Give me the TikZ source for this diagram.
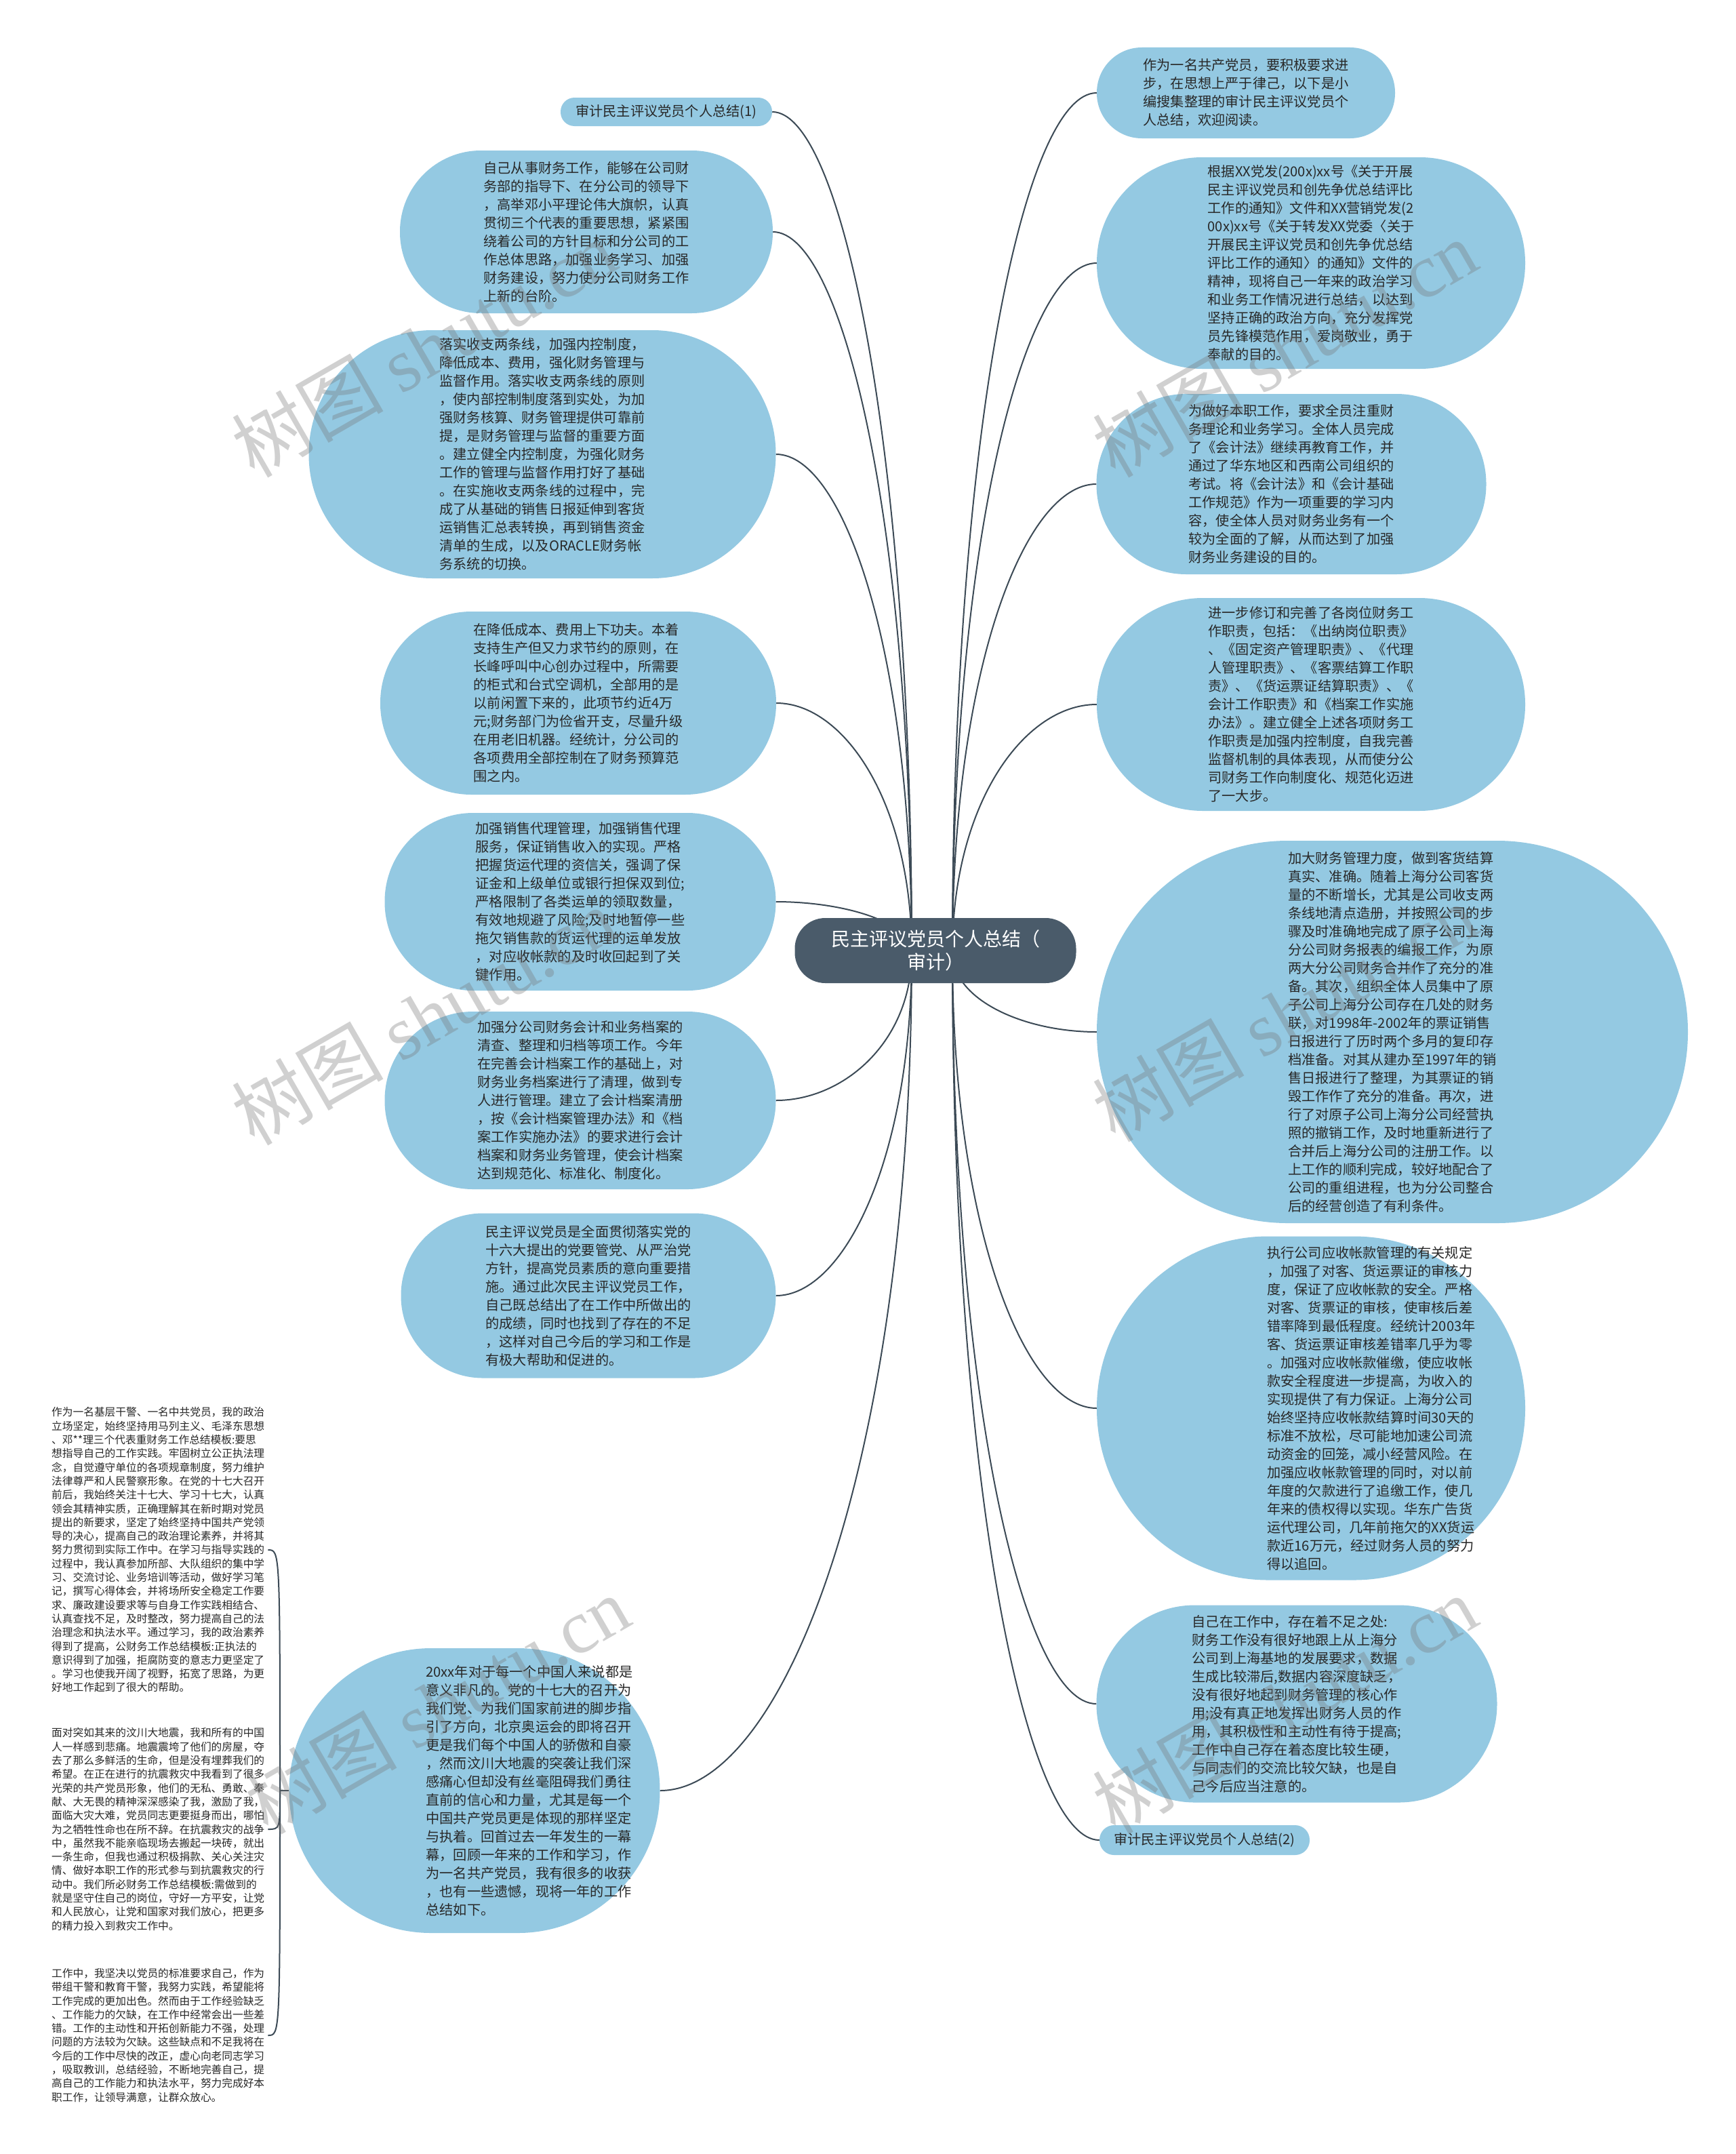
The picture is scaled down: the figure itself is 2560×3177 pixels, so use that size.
\documentclass[tikz,border=0pt]{standalone}
\usepackage{fontspec}
\setmainfont{Noto Sans CJK SC}
\newfontfamily\wmlatin{Liberation Serif}
\usetikzlibrary{calc}
\definecolor{bubblue}{RGB}{148,201,226}
\definecolor{rootfill}{RGB}{74,91,106}
\definecolor{linec}{RGB}{60,74,86}
\definecolor{txt}{RGB}{40,40,40}
\pgfdeclarelayer{edgelayer}
\pgfdeclarelayer{wmlayer}
\pgfsetlayers{edgelayer,main,wmlayer}
\tikzset{
  bub/.style={fill=bubblue, text=txt, align=left, inner sep=0pt,
    font=\fontsize{20.2}{27}\selectfont},
  bubtext/.style={text=txt, align=left, inner sep=0pt,
    font=\fontsize{20.2}{27}\selectfont},
  para/.style={text=txt, align=left, inner sep=5pt, anchor=west,
    font=\fontsize{15.7}{20.3}\selectfont},
  rootnode/.style={fill=rootfill, text=white, align=center, inner sep=0pt,
    rounded corners=45pt, minimum width=415pt, minimum height=96pt,
    font=\fontsize{28}{34}\selectfont},
  conn/.style={draw=linec, line width=2pt},
  wm/.style={text=black!55, opacity=0.33, anchor=south west, rotate=30,
    inner sep=0pt, font=\fontsize{112}{120}\selectfont}
}
\begin{document}
\begin{tikzpicture}[x=1pt,y=-1pt]
\useasboundingbox (0,0) rectangle (2560,3177);

% ---------- root ----------
\node[rootnode] (root) at (1380,1402) {民主评议党员个人总结（\\审计）};
\coordinate (rootL) at (1345,1405);
\coordinate (rootR) at (1405,1405);

% ---------- left side ----------
\node[bub, minimum width=312pt, minimum height=42pt, rounded corners=20.5pt] (L0) at (983,165)
 {审计民主评议党员个人总结(1)};

\node[bub, minimum width=550pt, minimum height=240pt, rounded corners=119.5pt] (L1) at (865,342)
 {自己从事财务工作，能够在公司财\\
务部的指导下、在分公司的领导下\\
，高举邓小平理论伟大旗帜，认真\\
贯彻三个代表的重要思想，紧紧围\\
绕着公司的方针目标和分公司的工\\
作总体思路，加强业务学习、加强\\
财务建设，努力使分公司财务工作\\
上新的台阶。};

\node[bub, minimum width=689pt, minimum height=366pt, rounded corners=182.5pt] (L2) at (800,670)
 {落实收支两条线，加强内控制度，\\
降低成本、费用，强化财务管理与\\
监督作用。落实收支两条线的原则\\
，使内部控制制度落到实处，为加\\
强财务核算、财务管理提供可靠前\\
提，是财务管理与监督的重要方面\\
。建立健全内控制度，为强化财务\\
工作的管理与监督作用打好了基础\\
。在实施收支两条线的过程中，完\\
成了从基础的销售日报延伸到客货\\
运销售汇总表转换，再到销售资金\\
清单的生成，以及ORACLE财务帐\\
务系统的切换。};

\node[bub, minimum width=584pt, minimum height=270pt, rounded corners=134.5pt] (L3) at (853,1037)
 {在降低成本、费用上下功夫。本着\\
支持生产但又力求节约的原则，在\\
长峰呼叫中心创办过程中，所需要\\
的柜式和台式空调机，全部用的是\\
以前闲置下来的，此项节约近4万\\
元;财务部门为俭省开支，尽量升级\\
在用老旧机器。经统计，分公司的\\
各项费用全部控制在了财务预算范\\
围之内。};

\node[bub, minimum width=577pt, minimum height=262pt, rounded corners=130.5pt] (L4) at (856,1330)
 {加强销售代理管理，加强销售代理\\
服务，保证销售收入的实现。严格\\
把握货运代理的资信关，强调了保\\
证金和上级单位或银行担保双到位;\\
严格限制了各类运单的领取数量，\\
有效地规避了风险;及时地暂停一些\\
拖欠销售款的货运代理的运单发放\\
，对应收帐款的及时收回起到了关\\
键作用。};

\node[bub, minimum width=577pt, minimum height=262pt, rounded corners=130.5pt] (L5) at (856,1623)
 {加强分公司财务会计和业务档案的\\
清查、整理和归档等项工作。今年\\
在完善会计档案工作的基础上，对\\
财务业务档案进行了清理，做到专\\
人进行管理。建立了会计档案清册\\
，按《会计档案管理办法》和《档\\
案工作实施办法》的要求进行会计\\
档案和财务业务管理，使会计档案\\
达到规范化、标准化、制度化。};

\node[bub, minimum width=553pt, minimum height=243pt, rounded corners=121pt] (L6) at (868,1911)
 {民主评议党员是全面贯彻落实党的\\
十六大提出的党要管党、从严治党\\
方针，提高党员素质的意向重要措\\
施。通过此次民主评议党员工作，\\
自己既总结出了在工作中所做出的\\
的成绩，同时也找到了存在的不足\\
，这样对自己今后的学习和工作是\\
有极大帮助和促进的。};

\node[bub, minimum width=547pt, minimum height=420pt, rounded corners=209.5pt] (LB) at (700,2641) {};
\node[bubtext] (LBt) at (781,2641)
 {20xx年对于每一个中国人来说都是\\
意义非凡的。党的十七大的召开为\\
我们党、为我们国家前进的脚步指\\
引了方向，北京奥运会的即将召开\\
更是我们每个中国人的骄傲和自豪\\
，然而汶川大地震的突袭让我们深\\
感痛心但却没有丝毫阻碍我们勇往\\
直前的信心和力量，尤其是每一个\\
中国共产党员更是体现的那样坚定\\
与执着。回首过去一年发生的一幕\\
幕，回顾一年来的工作和学习，作\\
为一名共产党员，我有很多的收获\\
，也有一些遗憾，现将一年的工作\\
总结如下。};

% ---------- far-left paragraphs ----------
\node[para] (P1) at (71,2286)
 {作为一名基层干警、一名中共党员，我的政治\\
立场坚定，始终坚持用马列主义、毛泽东思想\\
、邓**理三个代表重财务工作总结模板:要思\\
想指导自己的工作实践。牢固树立公正执法理\\
念，自觉遵守单位的各项规章制度，努力维护\\
法律尊严和人民警察形象。在党的十七大召开\\
前后，我始终关注十七大、学习十七大，认真\\
领会其精神实质，正确理解其在新时期对党员\\
提出的新要求，坚定了始终坚持中国共产党领\\
导的决心，提高自己的政治理论素养，并将其\\
努力贯彻到实际工作中。在学习与指导实践的\\
过程中，我认真参加所部、大队组织的集中学\\
习、交流讨论、业务培训等活动，做好学习笔\\
记，撰写心得体会，并将场所安全稳定工作要\\
求、廉政建设要求等与自身工作实践相结合、\\
认真查找不足，及时整改，努力提高自己的法\\
治理念和执法水平。通过学习，我的政治素养\\
得到了提高，公财务工作总结模板:正执法的\\
意识得到了加强，拒腐防变的意志力更坚定了\\
。学习也使我开阔了视野，拓宽了思路，为更\\
好地工作起到了很大的帮助。};

\node[para] (P2) at (71,2698)
 {面对突如其来的汶川大地震，我和所有的中国\\
人一样感到悲痛。地震震垮了他们的房屋，夺\\
去了那么多鲜活的生命，但是没有埋葬我们的\\
希望。在正在进行的抗震救灾中我看到了很多\\
光荣的共产党员形象，他们的无私、勇敢、奉\\
献、大无畏的精神深深感染了我，激励了我，\\
面临大灾大难，党员同志更要挺身而出，哪怕\\
为之牺牲性命也在所不辞。在抗震救灾的战争\\
中，虽然我不能亲临现场去搬起一块砖，就出\\
一条生命，但我也通过积极捐款、关心关注灾\\
情、做好本职工作的形式参与到抗震救灾的行\\
动中。我们所必财务工作总结模板:需做到的\\
就是坚守住自己的岗位，守好一方平安，让党\\
和人民放心，让党和国家对我们放心，把更多\\
的精力投入到救灾工作中。};

\node[para] (P3) at (71,3002)
 {工作中，我坚决以党员的标准要求自己，作为\\
带组干警和教育干警，我努力实践，希望能将\\
工作完成的更加出色。然而由于工作经验缺乏\\
、工作能力的欠缺，在工作中经常会出一些差\\
错。工作的主动性和开拓创新能力不强，处理\\
问题的方法较为欠缺。这些缺点和不足我将在\\
今后的工作中尽快的改正，虚心向老同志学习\\
，吸取教训，总结经验，不断地完善自己，提\\
高自己的工作能力和执法水平，努力完成好本\\
职工作，让领导满意，让群众放心。};

\coordinate (jn) at (413,2641);

% ---------- right side ----------
\node[bub, minimum width=440pt, minimum height=134pt, rounded corners=66.5pt] (R1) at (1838,137)
 {作为一名共产党员，要积极要求进\\
步，在思想上严于律己，以下是小\\
编搜集整理的审计民主评议党员个\\
人总结，欢迎阅读。};

\node[bub, minimum width=632pt, minimum height=312pt, rounded corners=155.5pt] (R2) at (1934,388)
 {根据XX党发(200x)xx号《关于开展\\
民主评议党员和创先争优总结评比\\
工作的通知》文件和XX营销党发(2\\
00x)xx号《关于转发XX党委〈关于\\
开展民主评议党员和创先争优总结\\
评比工作的通知〉的通知》文件的\\
精神，现将自己一年来的政治学习\\
和业务工作情况进行总结，以达到\\
坚持正确的政治方向，充分发挥党\\
员先锋模范作用，爱岗敬业，勇于\\
奉献的目的。};

\node[bub, minimum width=575pt, minimum height=266pt, rounded corners=132.5pt] (R3) at (1905,714)
 {为做好本职工作，要求全员注重财\\
务理论和业务学习。全体人员完成\\
了《会计法》继续再教育工作，并\\
通过了华东地区和西南公司组织的\\
考试。将《会计法》和《会计基础\\
工作规范》作为一项重要的学习内\\
容，使全体人员对财务业务有一个\\
较为全面的了解，从而达到了加强\\
财务业务建设的目的。};

\node[bub, minimum width=632pt, minimum height=314pt, rounded corners=156.5pt] (R4) at (1934,1039)
 {进一步修订和完善了各岗位财务工\\
作职责，包括：《出纳岗位职责》\\
、《固定资产管理职责》、《代理\\
人管理职责》、《客票结算工作职\\
责》、《货运票证结算职责》、《\\
会计工作职责》和《档案工作实施\\
办法》。建立健全上述各项财务工\\
作职责是加强内控制度，自我完善\\
监督机制的具体表现，从而使分公\\
司财务工作向制度化、规范化迈进\\
了一大步。};

\node[bub, minimum width=872pt, minimum height=564pt, rounded corners=281.5pt] (R5) at (2054,1522)
 {加大财务管理力度，做到客货结算\\
真实、准确。随着上海分公司客货\\
量的不断增长，尤其是公司收支两\\
条线地清点造册，并按照公司的步\\
骤及时准确地完成了原子公司上海\\
分公司财务报表的编报工作，为原\\
两大分公司财务合并作了充分的准\\
备。其次，组织全体人员集中了原\\
子公司上海分公司存在几处的财务\\
联，对1998年-2002年的票证销售\\
日报进行了历时两个多月的复印存\\
档准备。对其从建办至1997年的销\\
售日报进行了整理，为其票证的销\\
毁工作作了充分的准备。再次，进\\
行了对原子公司上海分公司经营执\\
照的撤销工作，及时地重新进行了\\
合并后上海分公司的注册工作。以\\
上工作的顺利完成，较好地配合了\\
公司的重组进程，也为分公司整合\\
后的经营创造了有利条件。};

\node[bub, minimum width=632pt, minimum height=507pt, rounded corners=253pt] (R6) at (1934,2077) {};
\node[bubtext] (R6t) at (2023,2077)
 {执行公司应收帐款管理的有关规定\\
，加强了对客、货运票证的审核力\\
度，保证了应收帐款的安全。严格\\
对客、货票证的审核，使审核后差\\
错率降到最低程度。经统计2003年\\
客、货运票证审核差错率几乎为零\\
。加强对应收帐款催缴，使应收帐\\
款安全程度进一步提高，为收入的\\
实现提供了有力保证。上海分公司\\
始终坚持应收帐款结算时间30天的\\
标准不放松，尽可能地加速公司流\\
动资金的回笼，减小经营风险。在\\
加强应收帐款管理的同时，对以前\\
年度的欠款进行了追缴工作，使几\\
年来的债权得以实现。华东广告货\\
运代理公司，几年前拖欠的XX货运\\
款近16万元，经过财务人员的努力\\
得以追回。};

\node[bub, minimum width=591pt, minimum height=291pt, rounded corners=145pt] (R7) at (1913,2513)
 {自己在工作中，存在着不足之处:\\
财务工作没有很好地跟上从上海分\\
公司到上海基地的发展要求，数据\\
生成比较滞后,数据内容深度缺乏，\\
没有很好地起到财务管理的核心作\\
用;没有真正地发挥出财务人员的作\\
用，其积极性和主动性有待于提高;\\
工作中自己存在着态度比较生硬，\\
与同志们的交流比较欠缺，也是自\\
己今后应当注意的。};

\node[bub, minimum width=310pt, minimum height=44pt, rounded corners=21.5pt] (R8) at (1777,2714)
 {审计民主评议党员个人总结(2)};

% ---------- connectors ----------
\begin{pgfonlayer}{edgelayer}
\fill[white] (0,0) rectangle (2560,3177);
\draw[conn] (rootL) .. controls (1345,661) and (1242,165) .. (L0.east);
\draw[conn] (rootL) .. controls (1345,767) and (1242,342) .. (L1.east);
\draw[conn] (rootL) .. controls (1345,963) and (1245,670) .. (L2.east);
\draw[conn] (rootL) .. controls (1345,1184) and (1245,1037) .. (L3.east);
\draw[conn] (rootL) .. controls (1345,1360) and (1245,1330) .. (L4.east);
\draw[conn] (rootL) .. controls (1345,1536) and (1245,1623) .. (L5.east);
\draw[conn] (rootL) .. controls (1345,1709) and (1245,1911) .. (L6.east);
\draw[conn] (rootL) .. controls (1345,2147) and (1159,2641) .. (LB.east);

\draw[conn] (rootR) .. controls (1405,644) and (1510,137) .. (R1.west);
\draw[conn] (rootR) .. controls (1405,795) and (1511,388) .. (R2.west);
\draw[conn] (rootR) .. controls (1405,990) and (1511,714) .. (R3.west);
\draw[conn] (rootR) .. controls (1405,1185) and (1511,1039) .. (R4.west);
\draw[conn] (rootR) .. controls (1405,1475) and (1511,1522) .. (R5.west);
\draw[conn] (rootR) .. controls (1405,1808) and (1511,2077) .. (R6.west);
\draw[conn] (rootR) .. controls (1405,2070) and (1511,2513) .. (R7.west);
\draw[conn] (rootR) .. controls (1405,2190) and (1513,2714) .. (R8.west);

\draw[conn] (LB.west) -- (jn);
\draw[conn] (jn) .. controls (413,2286) and (413,2286) .. (P1.east);
\draw[conn] (jn) .. controls (413,2698) and (413,2698) .. (P2.east);
\draw[conn] (jn) .. controls (413,3002) and (413,3002) .. (P3.east);
\end{pgfonlayer}

% ---------- watermarks ----------
\begin{pgfonlayer}{wmlayer}
\node[wm] (w1) at (380,715) {树图 {\wmlatin shutu.cn}};
\node[wm] (w2) at (1650,715) {树图 {\wmlatin shutu.cn}};
\node[wm] (w3) at (380,1700) {树图 {\wmlatin shutu.cn}};
\node[wm] (w4) at (1650,1695) {树图 {\wmlatin shutu.cn}};
\node[wm] (w5) at (400,2715) {树图 {\wmlatin shutu.cn}};
\node[wm] (w6) at (1650,2715) {树图 {\wmlatin shutu.cn}};
\end{pgfonlayer}
\end{tikzpicture}
\end{document}
